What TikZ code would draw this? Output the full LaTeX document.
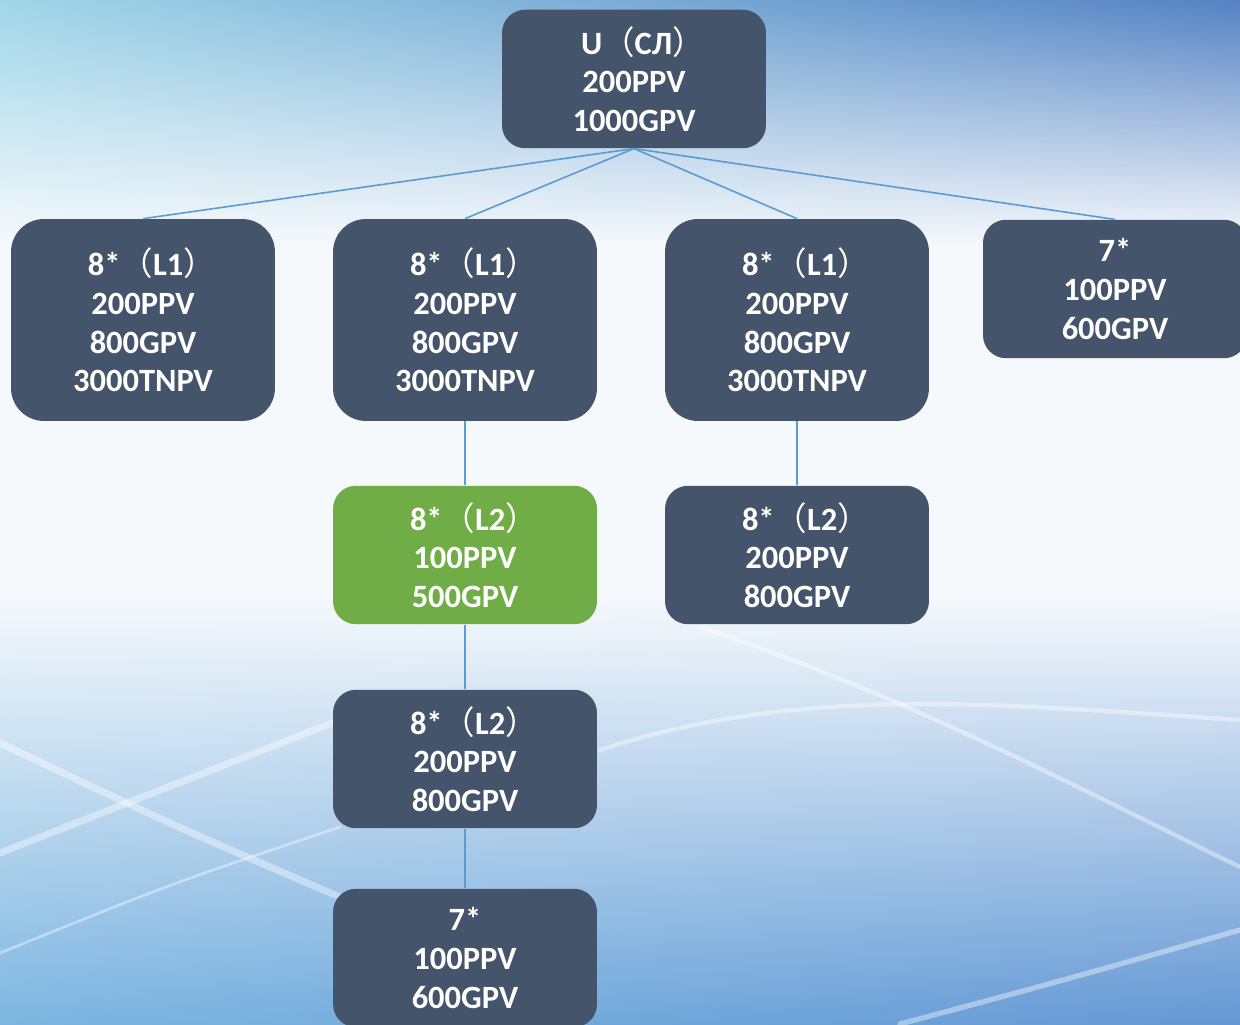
\documentclass[tikz,border=0pt]{standalone}
\usepackage{fontspec}
\setmainfont{Carlito}
\newfontfamily\cjk{Noto Sans CJK SC}
\usetikzlibrary{positioning}
\usepackage{xcolor}

\definecolor{boxgray}{HTML}{44546A}
\definecolor{boxgreen}{HTML}{70AD47}
\definecolor{linkblue}{HTML}{5B9BD5}

% sky: white band in the middle, blue above (darker to the right) and below
\pgfdeclarefunctionalshading{skybg}{\pgfpointorigin}{\pgfpoint{100bp}{100bp}}{}{
25 sub 50 div exch 25 sub 50 div exch
dup 0.76 sub 0.24 div dup 0 lt {pop 0} if
exch 0.42 exch sub 0.42 div dup 0 lt {pop 0} if
2 index -0.294 mul -0.338 add 2 index mul 3 index -0.098 mul -0.475 add 2 index mul add 0.965 add
4 1 roll
2 index -0.329 mul -0.137 add 2 index mul 3 index -0.118 mul -0.262 add 2 index mul add 0.976 add
4 1 roll
2 index -0.145 mul -0.078 add 2 index mul 3 index -0.051 mul -0.106 add 2 index mul add 0.988 add
4 1 roll pop pop pop
}

\newcommand{\lpar}{{\cjk\mdseries （}}
\newcommand{\rpar}{{\cjk\mdseries ）}\kern-0.55em}

\tikzset{
  box/.style={fill=boxgray, text=white, align=center, inner sep=0pt,
    minimum width=5.28cm, font=\bfseries\fontsize{18.5}{22}\selectfont},
  boxthree/.style={box, minimum height=2.77cm, rounded corners=0.46cm},
  boxfour/.style={box, minimum height=4.04cm, rounded corners=0.66cm},
  link/.style={draw=linkblue, line width=0.9pt},
  streak/.style={draw=white, opacity=0.4, line cap=round}
}

\begin{document}
\begin{tikzpicture}[x=0.02cm, y=0.02cm]

\useasboundingbox (0,0) rectangle (1240,1024);
\clip (0,0) rectangle (1240,1024);

% background
\shade[shading=skybg] (0,0) rectangle (1240,1024);

% streaks
\draw[streak, line width=4pt] (0,171) .. controls (150,230) .. (340,304);
\draw[streak, line width=4pt] (0,281) .. controls (170,200) .. (340,127);
\draw[streak, line width=1.5pt] (0,71) .. controls (170,140) .. (340,197);
\draw[streak, line width=2.5pt] (600,274) .. controls (800,340) and (1000,320) .. (1240,304);
\draw[streak, line width=2.5pt] (700,397) .. controls (900,330) and (1050,250) .. (1240,157);
\draw[streak, line width=3pt] (900,0) .. controls (1050,40) .. (1240,94);

% top
\node[boxthree] (root) at (634,945) {U\lpar СЛ\rpar\\200PPV\\1000GPV};

% level one
\node[boxfour] (lone) at (143,704) {8*\lpar L1\rpar\\200PPV\\800GPV\\3000TNPV};
\node[boxfour] (ltwo) at (465,704) {8*\lpar L1\rpar\\200PPV\\800GPV\\3000TNPV};
\node[boxfour] (lthree) at (797,704) {8*\lpar L1\rpar\\200PPV\\800GPV\\3000TNPV};
\node[boxthree] (sevenright) at (1115,735) {7*\\100PPV\\600GPV};

% level two
\node[boxthree, fill=boxgreen] (ltwogreen) at (465,469) {8*\lpar L2\rpar\\100PPV\\500GPV};
\node[boxthree] (ltworight) at (797,469) {8*\lpar L2\rpar\\200PPV\\800GPV};
\node[boxthree] (ltwolow) at (465,265) {8*\lpar L2\rpar\\200PPV\\800GPV};
\node[boxthree] (sevenlow) at (465,66) {7*\\100PPV\\600GPV};

% links
\draw[link] (root.south) -- (lone.north);
\draw[link] (root.south) -- (ltwo.north);
\draw[link] (root.south) -- (lthree.north);
\draw[link] (root.south) -- (sevenright.north);
\draw[link] (ltwo.south) -- (ltwogreen.north);
\draw[link] (lthree.south) -- (ltworight.north);
\draw[link] (ltwogreen.south) -- (ltwolow.north);
\draw[link] (ltwolow.south) -- (sevenlow.north);

\end{tikzpicture}
\end{document}
